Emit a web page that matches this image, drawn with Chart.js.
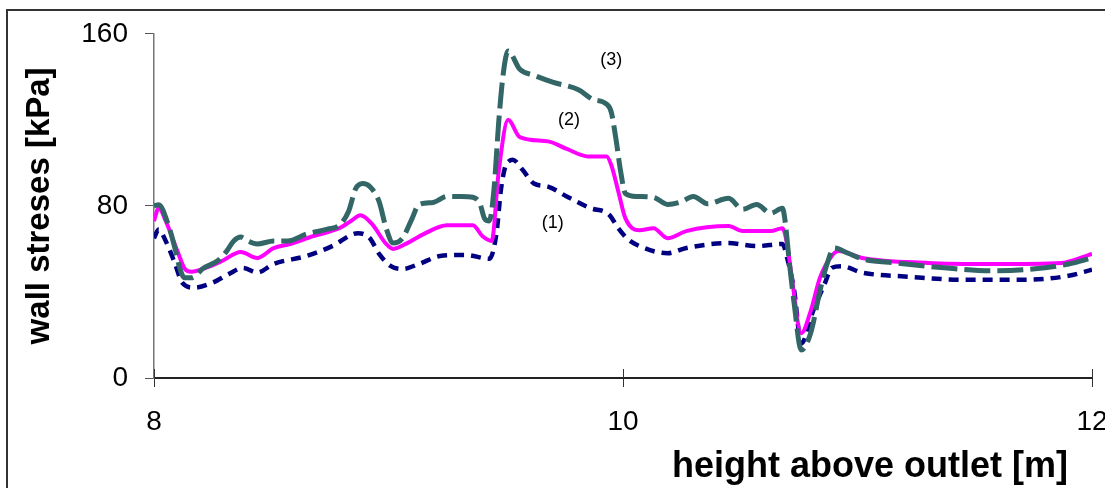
<!DOCTYPE html>
<html>
<head>
<meta charset="utf-8">
<script src="https://cdn.jsdelivr.net/npm/chart.js@4.4.1/dist/chart.umd.min.js"></script>
<style>
    html, body { margin: 0; padding: 0; background: #fff; overflow: hidden; }
    #wrap { position: relative; width: 1200px; height: 520px; }
    #frame {
        position: absolute; left: 6px; top: 9px; width: 1300px; height: 600px;
        border: 2px solid #333; pointer-events: none;
    }
</style>
</head>
<body>
<div id="wrap">
    <canvas id="stressChart" width="1200" height="520"></canvas>
    <div id="frame"></div>
</div>
<script>
// curve (1)
const heights1 = [8.00, 8.02, 8.05, 8.09, 8.12, 8.17, 8.25, 8.32, 8.38, 8.44, 8.51, 8.65, 8.76, 8.87, 8.92, 8.96,
    9.01, 9.06, 9.13, 9.22, 9.33, 9.43, 9.46, 9.48, 9.50, 9.51, 9.53, 9.57, 9.62, 9.68, 9.76, 9.86, 9.94, 9.98,
    10.02, 10.07, 10.19, 10.27, 10.45, 10.57, 10.68, 10.70, 10.73, 10.76, 10.81, 10.86, 10.89, 10.93, 11.02,
    11.23, 11.44, 11.72, 11.90, 12.00];
const stress1 = [65, 69, 63.7, 53, 44.3, 42, 44.3, 48.4, 51.2, 49, 53, 56.7, 61.3, 67.3, 65, 57.7,
    52, 50.7, 53, 56.7, 57.2, 55.4, 66.9, 88, 99, 100.5, 101.5, 97, 90.4, 89, 84.4, 79, 76, 69.6,
    64.6, 61.3, 58, 60.4, 62.7, 61.3, 62.3, 55.8, 40.6, 16, 31, 43.8, 51.2, 52, 49,
    47, 45.7, 45.7, 47.5, 50.3];

// curve (2)
const heights2 = [8.00, 8.02, 8.05, 8.10, 8.13, 8.16, 8.22, 8.29, 8.37, 8.44, 8.51, 8.58, 8.68, 8.79, 8.84, 8.88,
    8.93, 8.99, 9.02, 9.08, 9.15, 9.25, 9.36, 9.40, 9.44, 9.47, 9.51, 9.56, 9.68, 9.76, 9.85, 9.93, 9.95, 9.98,
    10.01, 10.07, 10.13, 10.19, 10.27, 10.45, 10.51, 10.63, 10.68, 10.70, 10.72, 10.76, 10.80, 10.84, 10.89,
    10.92, 11.02, 11.30, 11.58, 11.87, 12.00];
const stress2 = [73, 79, 73, 59, 51, 49.4, 51.2, 54.4, 58.6, 55.8, 60.4, 62.3, 66, 69.6, 73, 75.6,
    71.5, 62.3, 60, 62.7, 66.9, 71, 71, 66, 63.7, 96, 120, 112, 110, 106.5, 103, 103, 99, 86.7,
    74.3, 68.7, 69.6, 65, 68.3, 70.6, 68.3, 68.3, 69.6, 62, 46.6, 20.8, 31, 46.6, 56.7,
    59, 55.8, 53.5, 53, 53.5, 57.7];

// curve (3)
const heights3 = [8.00, 8.02, 8.06, 8.09, 8.11, 8.13, 8.16, 8.21, 8.27, 8.31, 8.34, 8.37, 8.40, 8.44, 8.51, 8.57,
    8.65, 8.74, 8.79, 8.83, 8.86, 8.89, 8.92, 8.96, 8.99, 9.02, 9.06, 9.10, 9.13, 9.19, 9.25, 9.31, 9.36, 9.39,
    9.41, 9.43, 9.45, 9.47, 9.49, 9.51, 9.56, 9.62, 9.70, 9.81, 9.87, 9.93, 9.95, 9.97, 9.99, 10.01, 10.06,
    10.13, 10.19, 10.25, 10.30, 10.36, 10.45, 10.51, 10.57, 10.63, 10.68, 10.69, 10.71, 10.73, 10.76, 10.80,
    10.84, 10.87, 10.90, 10.96, 11.02, 11.16, 11.37, 11.58, 11.80, 11.90, 12.00];
const stress3 = [80, 80.5, 71.5, 60, 51, 46.6, 46.6, 51, 54.4, 59, 63.7, 65.5, 63.7, 62.3, 63.7, 63.7,
    66.9, 69.2, 71, 77.5, 88, 90.4, 89, 82, 69.6, 62.7, 65, 74, 80.7, 81.6, 84.4, 84.4, 84, 81,
    74, 73, 88, 119, 142, 152, 143.5, 140.7, 137.5, 134, 129.6, 127.3, 123.6, 111, 96, 85.8, 84.4,
    84, 80.7, 82, 84.4, 81, 83.5, 78.4, 80.7, 76.6, 78.9, 74, 53, 34.6, 13, 20.8,
    40.6, 53, 60.4, 58, 55.4, 53.5, 51.2, 49.8, 51.2, 53, 55.8];

const curveLabels = ['(1)', '(2)', '(3)'];
const labelHeights = [9.70, 9.77, 9.95];
const labelStresses = [72, 120, 148];

const xTicks = [8, 10, 12];
const yTicks = [0, 80, 160];

function toPoints(xs, ys) {
    return xs.map((x, i) => ({ x: x, y: ys[i] }));
}

const fontFamily = "Arial, 'Liberation Sans', sans-serif";

// labels (1) (2) (3) next to the curves, x title, and inner half of x ticks
const extrasPlugin = {
    id: 'extras',
    afterDraw(chart) {
        const ctx = chart.ctx;
        const xs = chart.scales.x;
        const ys = chart.scales.y;
        ctx.save();

        ctx.strokeStyle = '#333';
        ctx.lineWidth = 1;
        xTicks.forEach(v => {
            const px = Math.round(xs.getPixelForValue(v)) + 0.5;
            ctx.beginPath();
            ctx.moveTo(px, ys.bottom - 9);
            ctx.lineTo(px, ys.bottom);
            ctx.stroke();
        });

        ctx.fillStyle = '#000';
        ctx.font = '18px ' + fontFamily;
        ctx.textAlign = 'center';
        ctx.textBaseline = 'middle';
        curveLabels.forEach((t, i) => {
            ctx.fillText(t, xs.getPixelForValue(labelHeights[i]), ys.getPixelForValue(labelStresses[i]));
        });

        ctx.font = 'bold 36px ' + fontFamily;
        ctx.textAlign = 'right';
        ctx.textBaseline = 'alphabetic';
        ctx.fillText('height above outlet [m]', chart.chartArea.right - 24, 477);
        ctx.restore();
    }
};

const ctx = document.getElementById('stressChart').getContext('2d');

const chart = new Chart(ctx, {
    type: 'line',
    data: {
        datasets: [
            {
                label: '(1)',
                data: toPoints(heights1, stress1),
                borderColor: '#000080',
                borderWidth: 4.5,
                borderDash: [10, 7],
                pointRadius: 0,
                cubicInterpolationMode: 'monotone',
                order: 2
            },
            {
                label: '(2)',
                data: toPoints(heights2, stress2),
                borderColor: '#ff00ff',
                borderWidth: 4,
                pointRadius: 0,
                cubicInterpolationMode: 'monotone',
                order: 1
            },
            {
                label: '(3)',
                data: toPoints(heights3, stress3),
                borderColor: '#336666',
                borderWidth: 5,
                borderDash: [26, 7],
                pointRadius: 0,
                cubicInterpolationMode: 'monotone',
                order: 0
            }
        ]
    },
    options: {
        responsive: false,
        animation: false,
        layout: {
            padding: { top: 33, right: 108, left: 0, bottom: 0 }
        },
        plugins: {
            legend: { display: false },
            tooltip: { enabled: false }
        },
        scales: {
            x: {
                type: 'linear',
                min: 8,
                max: 12,
                afterBuildTicks: axis => { axis.ticks = xTicks.map(v => ({ value: v })); },
                afterFit: axis => { axis.height = 142; },
                border: { color: '#222', width: 2 },
                grid: { drawOnChartArea: false, drawTicks: true, tickLength: 9, color: '#333' },
                ticks: {
                    color: '#000',
                    padding: 18,
                    maxRotation: 0,
                    font: { family: fontFamily, size: 28 }
                }
            },
            y: {
                min: 0,
                max: 160,
                afterBuildTicks: axis => { axis.ticks = yTicks.map(v => ({ value: v })); },
                afterFit: axis => { axis.width = 154; },
                border: { color: '#777', width: 1.5 },
                grid: { drawOnChartArea: false, drawTicks: true, tickLength: 9, color: '#555' },
                ticks: {
                    color: '#000',
                    padding: 17,
                    font: { family: fontFamily, size: 28 }
                },
                title: {
                    display: true,
                    text: 'wall streses [kPa]',
                    color: '#000',
                    padding: { top: 20, bottom: 0 },
                    font: { family: fontFamily, size: 33, weight: 'bold' }
                }
            }
        }
    },
    plugins: [extrasPlugin]
});
</script>
</body>
</html>
